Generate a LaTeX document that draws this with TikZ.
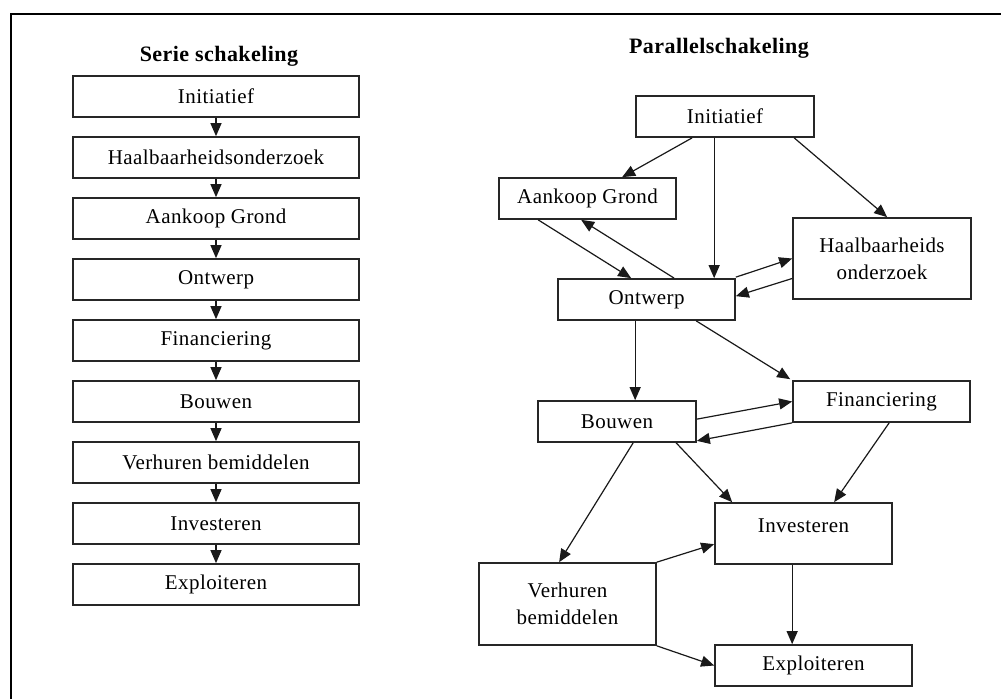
\documentclass[tikz,border=0pt]{standalone}
\usepackage{fontspec}
\setmainfont{Liberation Serif}[LetterSpace=2]
\usetikzlibrary{arrows.meta}
\begin{document}
\begin{tikzpicture}[x=1pt,y=-1pt,
  stepbox/.style={draw=black!85,line width=1.7pt,rectangle,inner sep=0pt,
    font=\fontsize{21}{25}\selectfont,align=center},
  title/.style={font=\fontsize{22}{26}\selectfont\bfseries,inner sep=0pt},
  flow/.style={draw=black!90,line width=1.2pt,-{Triangle[length=13pt,width=11pt]}}]
\useasboundingbox (0,0) rectangle (1001,699);
\fill[white] (0,0) rectangle (1001,699);
% page frame (top and left edges)
\draw[line width=2pt] (1001,14) -- (11,14) -- (11,699);

% series chain
\node[title] (st) at (219,56) {Serie schakeling};
\foreach \n/\t [count=\i from 0] in {s1/Initiatief,s2/Haalbaarheidsonderzoek,s3/Aankoop Grond,
  s4/Ontwerp,s5/Financiering,s6/Bouwen,s7/Verhuren bemiddelen,s8/Investeren,s9/Exploiteren}
  \node[stepbox,minimum width=286pt,minimum height=41pt] (\n) at (216,96.5+61*\i) {\t};
\foreach \a/\b in {s1/s2,s2/s3,s3/s4,s4/s5,s5/s6,s6/s7,s7/s8,s8/s9}
  \draw[flow] (\a.south) -- (\b.north);

% parallel network
\node[title] (pt) at (719,48) {Parallelschakeling};
\node[stepbox,minimum width=178pt,minimum height=41pt] (ini) at (725,116.5) {Initiatief};
\node[stepbox,minimum width=177pt,minimum height=41pt] (aank) at (587.5,198.5) {Aankoop Grond};
\node[stepbox,minimum width=178pt,minimum height=81pt] (haal) at (882,258.5) {Haalbaarheids\\[2pt]onderzoek};
\node[stepbox,minimum width=177pt,minimum height=41pt] (ontw) at (646.5,299.5) {Ontwerp};
\node[stepbox,minimum width=177pt,minimum height=41pt] (fin) at (881.5,401.5) {Financiering};
\node[stepbox,minimum width=158pt,minimum height=41pt] (bouw) at (617,421.5) {Bouwen};
\node[stepbox,minimum width=177pt,minimum height=61pt,text depth=16pt] (inv) at (803.5,533.5) {Investeren};
\node[stepbox,minimum width=177pt,minimum height=82pt] (verh) at (567.5,604) {Verhuren\\[2pt]bemiddelen};
\node[stepbox,minimum width=197pt,minimum height=41pt] (expl) at (813.5,665.5) {Exploiteren};

\draw[flow] ([xshift=57pt]ini.south west) -- ([xshift=124pt]aank.north west);
\draw[flow] ([xshift=79pt]ini.south west) -- ([xshift=157pt]ontw.north west);
\draw[flow] ([xshift=159pt]ini.south west) -- ([xshift=95pt]haal.north west);
\draw[flow] ([xshift=40pt]aank.south west) -- ([xshift=74pt]ontw.north west);
\draw[flow] ([xshift=117pt]ontw.north west) -- ([xshift=83pt]aank.south west);
\draw[flow] ([yshift=1pt]ontw.north east) -- (haal.west);
\draw[flow] ([yshift=-20pt]haal.west) -- ([yshift=-18pt]ontw.north east);
\draw[flow] ([xshift=78pt]ontw.south west) -- ([xshift=98pt]bouw.north west);
\draw[flow] ([xshift=139pt]ontw.south west) -- ([xshift=-2pt,yshift=1pt]fin.north west);
\draw[flow] ([yshift=-19pt]bouw.north east) -- (fin.west);
\draw[flow] (fin.south west) -- ([yshift=2pt]bouw.south east);
\draw[flow] ([xshift=96pt]bouw.south west) -- ([xshift=81pt]verh.north west);
\draw[flow] ([xshift=139pt]bouw.south west) -- ([xshift=18pt]inv.north west);
\draw[flow] ([xshift=97pt]fin.south west) -- ([xshift=120pt]inv.north west);
\draw[flow] (verh.north east) -- ([yshift=-42pt]inv.north west);
\draw[flow] (verh.south east) -- (expl.west);
\draw[flow] ([xshift=78pt]inv.south west) -- ([xshift=78pt]expl.north west);
\end{tikzpicture}
\end{document}
